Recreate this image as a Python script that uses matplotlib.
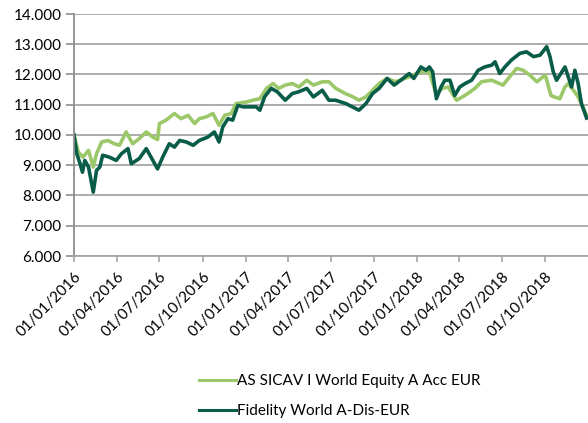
import matplotlib
matplotlib.use("Agg")
import matplotlib.pyplot as plt
import pandas as pd

plt.rcParams['font.family'] = ['Lato', 'DejaVu Sans']

# Fidelity World A-Dis-EUR (dark line)
fid_dates = [
    "2016-01-01", "2016-01-07", "2016-01-14", "2016-01-19", "2016-01-24", "2016-02-01",
    "2016-02-11", "2016-02-18", "2016-02-25", "2016-03-02", "2016-03-16", "2016-03-31",
    "2016-04-11", "2016-04-25", "2016-05-02", "2016-05-19", "2016-06-03", "2016-06-17",
    "2016-06-27", "2016-07-08", "2016-07-22", "2016-08-02", "2016-08-13", "2016-08-27",
    "2016-09-11", "2016-09-24", "2016-10-12", "2016-10-26", "2016-11-05", "2016-11-13",
    "2016-11-24", "2016-12-04", "2016-12-15", "2016-12-26", "2017-01-09", "2017-01-23",
    "2017-01-31", "2017-02-10", "2017-02-24", "2017-03-09", "2017-03-26", "2017-04-10",
    "2017-04-24", "2017-05-11", "2017-05-25", "2017-06-13", "2017-06-27", "2017-07-11",
    "2017-08-02", "2017-08-16", "2017-08-30", "2017-09-14", "2017-09-28", "2017-10-12",
    "2017-10-29", "2017-11-13", "2017-11-27", "2017-12-15", "2017-12-25", "2018-01-09",
    "2018-01-20", "2018-01-27", "2018-02-03", "2018-02-11", "2018-02-21", "2018-03-01",
    "2018-03-12", "2018-03-22", "2018-04-02", "2018-04-13", "2018-04-27", "2018-05-11",
    "2018-05-25", "2018-06-09", "2018-06-16", "2018-06-26", "2018-07-07", "2018-07-21",
    "2018-08-08", "2018-08-22", "2018-09-06", "2018-09-20", "2018-10-04", "2018-10-11",
    "2018-10-18", "2018-10-25", "2018-11-01", "2018-11-12", "2018-11-19", "2018-11-26",
    "2018-12-03", "2018-12-10", "2018-12-17", "2018-12-28",
]
fid_values = [
    10.00, 9.38, 9.05, 8.77, 9.16, 8.94,
    8.11, 8.83, 8.94, 9.33, 9.27, 9.16,
    9.38, 9.55, 9.05, 9.22, 9.55, 9.16,
    8.88, 9.27, 9.71, 9.60, 9.82, 9.77,
    9.66, 9.82, 9.93, 10.10, 9.77, 10.27,
    10.54, 10.49, 10.98, 10.93, 10.93, 10.93,
    10.82, 11.26, 11.54, 11.43, 11.15, 11.37,
    11.43, 11.54, 11.26, 11.48, 11.15, 11.15,
    11.04, 10.93, 10.82, 11.04, 11.37, 11.54,
    11.87, 11.65, 11.81, 12.03, 11.87, 12.25,
    12.14, 12.25, 12.09, 11.20, 11.59, 11.81,
    11.81, 11.31, 11.59, 11.70, 11.81, 12.14,
    12.25, 12.31, 12.42, 12.03, 12.25, 12.48,
    12.70, 12.75, 12.59, 12.64, 12.92, 12.59,
    12.09, 11.81, 11.98, 12.25, 11.92, 11.59,
    12.14, 11.70, 11.04, 10.56,
]

# AS SICAV I World Equity A Acc EUR (light line)
as_dates = [
    "2016-01-01", "2016-01-10", "2016-01-20", "2016-02-01", "2016-02-11", "2016-02-18",
    "2016-02-29", "2016-03-13", "2016-03-27", "2016-04-07", "2016-04-21", "2016-05-05",
    "2016-05-19", "2016-06-03", "2016-06-17", "2016-06-27", "2016-07-01", "2016-07-15",
    "2016-08-02", "2016-08-16", "2016-08-31", "2016-09-14", "2016-09-24", "2016-10-09",
    "2016-10-23", "2016-11-05", "2016-11-17", "2016-12-01", "2016-12-11", "2017-01-02",
    "2017-01-16", "2017-01-31", "2017-02-14", "2017-02-28", "2017-03-12", "2017-03-26",
    "2017-04-10", "2017-04-24", "2017-05-11", "2017-05-25", "2017-06-13", "2017-06-27",
    "2017-07-11", "2017-08-01", "2017-08-15", "2017-08-30", "2017-09-14", "2017-09-28",
    "2017-10-12", "2017-10-29", "2017-11-16", "2017-12-15", "2018-01-09", "2018-01-27",
    "2018-02-10", "2018-02-24", "2018-03-08", "2018-03-26", "2018-04-13", "2018-05-04",
    "2018-05-18", "2018-06-09", "2018-07-03", "2018-07-17", "2018-08-01", "2018-08-15",
    "2018-08-29", "2018-09-13", "2018-10-01", "2018-10-13", "2018-10-20", "2018-11-01",
    "2018-11-12", "2018-11-19", "2018-11-30", "2018-12-10", "2018-12-28",
]
as_values = [
    10.00, 9.44, 9.27, 9.49, 8.94, 9.38,
    9.77, 9.82, 9.71, 9.66, 10.10, 9.71,
    9.88, 10.10, 9.93, 9.85, 10.38, 10.49,
    10.71, 10.54, 10.65, 10.38, 10.54, 10.60,
    10.71, 10.32, 10.65, 10.71, 11.04, 11.09,
    11.15, 11.20, 11.54, 11.70, 11.54, 11.65,
    11.70, 11.59, 11.81, 11.65, 11.76, 11.76,
    11.55, 11.37, 11.28, 11.15, 11.26, 11.48,
    11.70, 11.87, 11.76, 11.92, 12.09, 12.09,
    11.37, 11.54, 11.59, 11.15, 11.31, 11.54,
    11.76, 11.81, 11.65, 11.92, 12.20, 12.14,
    11.98, 11.76, 11.98, 11.31, 11.26, 11.20,
    11.59, 11.70, 11.48, 11.26, 10.65,
]

y_ticks = [6, 7, 8, 9, 10, 11, 12, 13, 14]
x_ticks = pd.date_range("2016-01-01", "2018-10-01", freq="3MS")

light = "#9cc86a"
dark = "#085c48"
grid_col = "#a6a6a6"

fig = plt.figure(figsize=(5.88, 4.23), dpi=100)
ax = fig.add_axes([74 / 588, 1 - 256 / 423, 1 - 74 / 588, 242 / 423])

ax.plot(pd.to_datetime(as_dates), as_values, color=light, lw=2.6, solid_joinstyle="round",
        label="AS SICAV I World Equity A Acc EUR")
ax.plot(pd.to_datetime(fid_dates), fid_values, color=dark, lw=2.6, solid_joinstyle="round",
        label="Fidelity World A-Dis-EUR")

ax.set_ylim(6, 14)
ax.set_xlim(pd.Timestamp("2016-01-01"), pd.Timestamp("2018-12-31"))
ax.set_yticks(y_ticks)
ax.set_yticklabels([f"{v}.000" for v in y_ticks], fontsize=11)
ax.set_xticks(x_ticks)
ax.set_xticklabels([d.strftime("%d/%m/%Y") for d in x_ticks], rotation=45,
                   ha="right", rotation_mode="anchor", fontsize=11)

ax.grid(axis="y", color=grid_col, lw=1.3)
ax.set_axisbelow(True)
for s in ["top", "right"]:
    ax.spines[s].set_visible(False)
ax.spines["left"].set_color("#8c8c8c")
ax.spines["left"].set_linewidth(1.3)
ax.spines["bottom"].set_color(grid_col)
ax.spines["bottom"].set_linewidth(1.3)
ax.tick_params(axis="y", length=6, color="#8c8c8c", width=1.2, pad=3)
ax.tick_params(axis="x", length=4, color=grid_col, width=1.2, pad=6)

leg = fig.legend(loc="upper left", bbox_to_anchor=(193 / 588, 1 - 368 / 423), frameon=False,
                 fontsize=11, handlelength=2.4, handletextpad=0.1, labelspacing=1.05,
                 borderaxespad=0)
for line in leg.get_lines():
    line.set_linewidth(2.2)

fig.savefig("out.png", dpi=100)
